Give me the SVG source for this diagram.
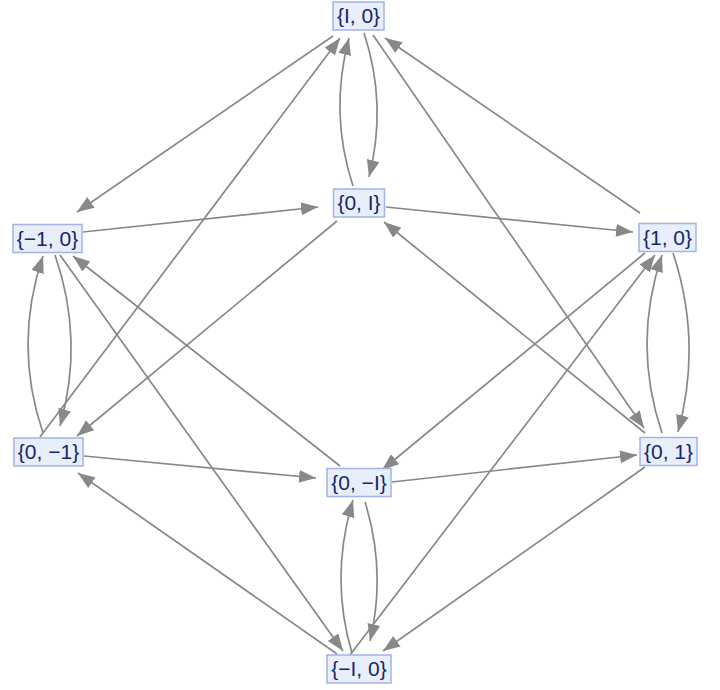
<svg xmlns="http://www.w3.org/2000/svg" width="720" height="690" viewBox="0 0 720 690">
<style>
.e{fill:none;stroke:#888888;stroke-width:1.7;marker-end:url(#ah)}
.b{fill:#e9eefb;stroke:#a3b3e6;stroke-width:1.5}
.t{font-family:"Liberation Sans",Arial,sans-serif;font-size:21px;fill:#13286c;text-anchor:middle}
</style>
<defs>
<marker id="ah" markerUnits="userSpaceOnUse" markerWidth="18" markerHeight="14" refX="17" refY="6.5" orient="auto" viewBox="0 0 18 14">
<path d="M0,0 L17,6.5 L0,13 z" fill="#888888"/>
</marker>
</defs>
<rect width="720" height="690" fill="#ffffff"/>
<g id="edges">
<path class="e" d="M333,36 L77,212"/>
<path class="e" d="M40,437 L340,38"/>
<path class="e" d="M373,35 L644,428"/>
<path class="e" d="M640,213 L385,38"/>
<path class="e" d="M83,232 L318,207"/>
<path class="e" d="M386,207 L633,232"/>
<path class="e" d="M337,221 L77,436"/>
<path class="e" d="M645,433 L384,222"/>
<path class="e" d="M60,255 L343,651"/>
<path class="e" d="M340,466 L73,256"/>
<path class="e" d="M645,253 L382,470"/>
<path class="e" d="M350,655 L655,255"/>
<path class="e" d="M84,456 L316,478"/>
<path class="e" d="M337,654 L78,473"/>
<path class="e" d="M392,482 L637,455"/>
<path class="e" d="M645,467 L383,651"/>
<path class="e" d="M353,186 Q329,113 349,38"/>
<path class="e" d="M364,33 Q387.5,104.5 369,177"/>
<path class="e" d="M43,433 Q13,344.5 43,256"/>
<path class="e" d="M55,255 Q84.5,340 60,426"/>
<path class="e" d="M662,433 Q632,344 662,255"/>
<path class="e" d="M673,253 Q702.5,342 678,432"/>
<path class="e" d="M352,653 Q329.5,577.5 353,500"/>
<path class="e" d="M365,502 Q386.5,571 370,641"/>
</g>
<g id="n_I0"><rect class="b" x="333" y="2" width="51" height="28"/><text class="t" x="358.5" y="23">{I, 0}</text></g>
<g id="n_0I"><rect class="b" x="333.5" y="189" width="51" height="28"/><text class="t" x="359" y="210">{0, I}</text></g>
<g id="n_m10"><rect class="b" x="13" y="224.5" width="69" height="28"/><text class="t" x="47.5" y="245.5">{−1, 0}</text></g>
<g id="n_10"><rect class="b" x="639" y="223.5" width="57" height="28"/><text class="t" x="667.5" y="244.5">{1, 0}</text></g>
<g id="n_0m1"><rect class="b" x="14" y="438" width="69" height="28"/><text class="t" x="48.5" y="459">{0, −1}</text></g>
<g id="n_01"><rect class="b" x="640" y="437.5" width="57" height="28"/><text class="t" x="668.5" y="458.5">{0, 1}</text></g>
<g id="n_0mI"><rect class="b" x="327" y="468.5" width="64" height="28"/><text class="t" x="359" y="489.5">{0, −I}</text></g>
<g id="n_mI0"><rect class="b" x="327" y="655" width="64" height="28"/><text class="t" x="359" y="676">{−I, 0}</text></g>
</svg>
